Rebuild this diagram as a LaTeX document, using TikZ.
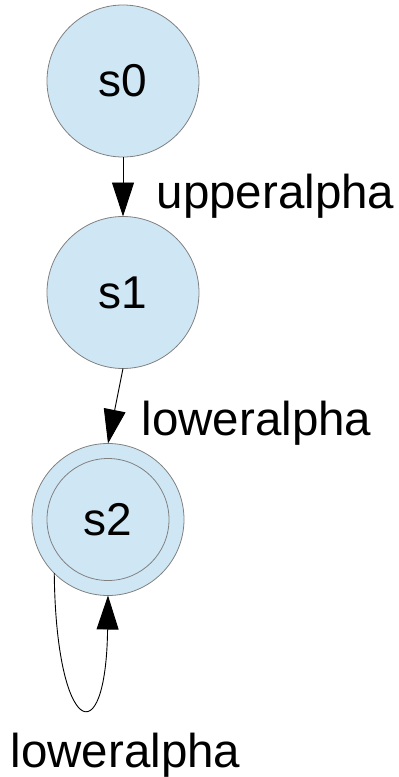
\documentclass[tikz,border=0pt]{standalone}
\usepackage{fontspec}
\setmainfont{Liberation Sans}
\usetikzlibrary{arrows.meta}
\definecolor{statefill}{RGB}{207,231,245}
\definecolor{stateline}{RGB}{128,128,128}
\begin{document}
\begin{tikzpicture}[x=1pt,y=-1pt,
  state/.style={circle,draw=stateline,fill=statefill,line width=0.8pt,
    minimum size=152pt,inner sep=0pt,outer sep=0pt,
    font=\fontsize{46}{55}\selectfont},
  innerstate/.style={circle,draw=stateline,line width=0.8pt,
    minimum size=122pt,inner sep=0pt,outer sep=0pt,
    font=\fontsize{46}{55}\selectfont},
  lbl/.style={anchor=base,inner sep=0pt,font=\fontsize{47.5}{57}\selectfont},
  trans/.style={draw=black,line width=0.9pt,-{Triangle[length=34pt,width=22pt]}}]
\useasboundingbox (0,0) rectangle (399,777);
\node[state] (s0) at (123,81) {s0};
\node[state] (s1) at (123,292.5) {s1};
\node[state] (s2) at (108,519.5) {};
\node[innerstate] (s2i) at (108,519.5) {s2};
\draw[trans] (s0.south) -- (s1.north);
\draw[trans] (s1.south) -- (s2.north);
\draw[trans] (s2.225) .. controls (56,735) and (106,757) .. (s2.south);
\node[lbl] (l1) at (275.5,208) {upperalpha};
\node[lbl] (l2) at (256.5,435) {loweralpha};
\node[lbl] (l3) at (125.5,767) {loweralpha};
\end{tikzpicture}
\end{document}
